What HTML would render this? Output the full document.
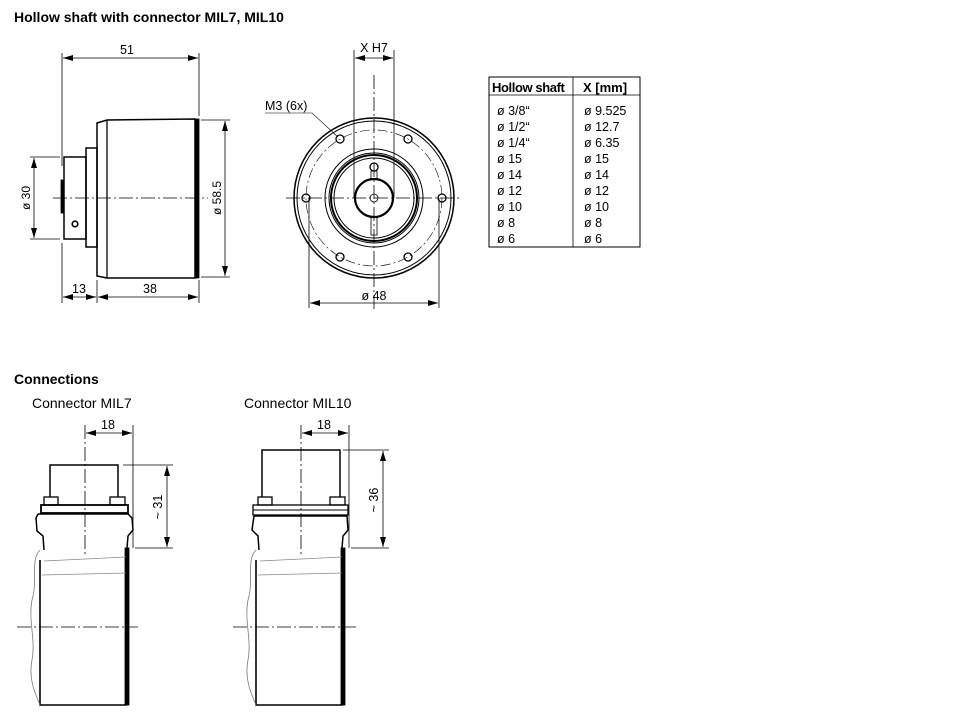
<!DOCTYPE html>
<html><head><meta charset="utf-8"><style>
html,body{margin:0;padding:0;background:#fff}
svg{display:block}
text{font-family:"Liberation Sans",Arial,sans-serif;fill:#000}
</style></head><body>
<svg width="978" height="718" viewBox="0 0 978 718" xmlns="http://www.w3.org/2000/svg">
<defs>
<marker id="a" viewBox="0 0 10 6" refX="10" refY="3" markerWidth="10" markerHeight="6" orient="auto-start-reverse" markerUnits="userSpaceOnUse"><path d="M0,0 L10,3 L0,6 z" fill="#000"/></marker>
</defs>
<text x="14" y="22" font-size="14" font-weight="bold">Hollow shaft with connector MIL7, MIL10</text>
<text x="14" y="384" font-size="14" font-weight="bold">Connections</text>
<text x="32" y="408" font-size="14">Connector MIL7</text>
<text x="244" y="408" font-size="14">Connector MIL10</text>

<g stroke="#000" fill="none" stroke-width="0.8">
<line x1="62" y1="53" x2="62" y2="166"/>
<line x1="199" y1="53" x2="199" y2="116"/>
<line x1="63" y1="58" x2="198" y2="58" marker-start="url(#a)" marker-end="url(#a)"/>
<path d="M97,123 L107,120 L195,119 L195,278 L107,278 L97,276 Z" stroke-width="1.5"/>
<line x1="107" y1="120" x2="107" y2="278" stroke-width="1.3"/>
<rect x="195" y="119" width="4" height="159" fill="#000"/>
<rect x="86" y="148" width="11" height="99" stroke-width="1.5"/>
<rect x="64" y="157" width="22" height="82" stroke-width="1.5"/>
<rect x="61" y="180" width="3" height="33" fill="#000"/>
<circle cx="75" cy="224" r="2.8" stroke-width="1.6"/>
<line x1="53" y1="198" x2="208" y2="198" stroke-dasharray="14,3,2,3"/>
<line x1="30" y1="157" x2="60" y2="157"/>
<line x1="30" y1="239" x2="60" y2="239"/>
<line x1="34" y1="158" x2="34" y2="238" marker-start="url(#a)" marker-end="url(#a)"/>
<line x1="201" y1="120" x2="230" y2="120"/>
<line x1="201" y1="277" x2="230" y2="277"/>
<line x1="225" y1="121" x2="225" y2="276" marker-start="url(#a)" marker-end="url(#a)"/>
<line x1="62" y1="243" x2="62" y2="303"/>
<line x1="97" y1="280" x2="97" y2="303"/>
<line x1="199" y1="280" x2="199" y2="303"/>
<line x1="63" y1="297" x2="96" y2="297" marker-start="url(#a)" marker-end="url(#a)"/>
<line x1="98" y1="297" x2="198" y2="297" marker-start="url(#a)" marker-end="url(#a)"/>

<circle cx="374" cy="198" r="80" stroke-width="1.5"/>
<circle cx="374" cy="198" r="77" stroke-width="1"/>
<circle cx="374" cy="198" r="68" stroke-dasharray="10,3,2,3" stroke-width="0.6"/>
<circle cx="374" cy="198" r="49" stroke-width="1"/>
<circle cx="374" cy="198" r="45" stroke-width="1"/>
<circle cx="374" cy="198" r="43" stroke-width="2"/>
<circle cx="374" cy="198" r="40" stroke-width="1"/>
<circle cx="374" cy="198" r="19" stroke-width="2.2"/>
<circle cx="374" cy="198" r="4"/>
<circle cx="374" cy="167" r="4" stroke-width="1.3"/>
<rect x="371" y="171" width="6" height="8"/>
<rect x="371" y="217" width="6" height="18"/>
<g stroke-width="1.3">
<circle cx="306" cy="198" r="4"/><circle cx="442" cy="198" r="4"/>
<circle cx="340" cy="139" r="4"/><circle cx="408" cy="139" r="4"/>
<circle cx="340" cy="257" r="4"/><circle cx="408" cy="257" r="4"/>
</g>
<line x1="286" y1="198" x2="462" y2="198" stroke-dasharray="14,3,2,3"/>
<line x1="374" y1="75" x2="374" y2="310" stroke-dasharray="14,3,2,3"/>
<line x1="354" y1="50" x2="354" y2="198"/>
<line x1="394" y1="50" x2="394" y2="198"/>
<line x1="355" y1="58" x2="393" y2="58" marker-start="url(#a)" marker-end="url(#a)"/>
<line x1="309" y1="198" x2="309" y2="308"/>
<line x1="439" y1="198" x2="439" y2="308"/>
<line x1="310" y1="303" x2="438" y2="303" marker-start="url(#a)" marker-end="url(#a)"/>
<polyline points="265,113 312,113 338,137" stroke-width="0.6"/>

<rect x="489" y="77" width="151" height="170" stroke-width="1"/>
<line x1="489" y1="95" x2="640" y2="95"/>
<line x1="573" y1="77" x2="573" y2="247"/>

<line x1="85" y1="425" x2="85" y2="555" stroke-dasharray="14,3,2,3"/>
<line x1="133" y1="425" x2="133" y2="548"/>
<line x1="86" y1="433" x2="132" y2="433" marker-start="url(#a)" marker-end="url(#a)"/>
<polyline points="50,497 50,465 118,465 118,497" stroke-width="1.5"/>
<rect x="44" y="497" width="14" height="8" stroke-width="1.3"/>
<rect x="110" y="497" width="15" height="8" stroke-width="1.3"/>
<rect x="41" y="505" width="87" height="8" stroke-width="1.8"/>
<path d="M38,514 L128,514 L132,518 L133,530 L128,536 L127,548 M38,514 L36,518 L37,531 L43,536 L44,550" stroke-width="1.5"/>
<path d="M40,560 L40,705 L126,705 L126,548" stroke-width="1.6"/>
<rect x="125" y="548" width="4" height="157" fill="#000"/>
<path d="M42,575 L126,573 M44,561 L126,557" stroke="#888"/>
<path d="M40,550 C30,560 38,580 32,600 C28,620 36,640 32,660 C28,680 36,695 40,705" stroke="#777"/>
<line x1="17" y1="627" x2="138" y2="627" stroke-dasharray="14,3,2,3"/>
<line x1="123" y1="465" x2="173" y2="465"/>
<line x1="135" y1="548" x2="173" y2="548"/>
<line x1="167" y1="466" x2="167" y2="547" marker-start="url(#a)" marker-end="url(#a)"/>

<line x1="301" y1="425" x2="301" y2="555" stroke-dasharray="14,3,2,3"/>
<line x1="349" y1="425" x2="349" y2="548"/>
<line x1="302" y1="433" x2="348" y2="433" marker-start="url(#a)" marker-end="url(#a)"/>
<polyline points="262,497 262,450 340,450 340,497" stroke-width="1.5"/>
<rect x="258" y="497" width="14" height="8" stroke-width="1.3"/>
<rect x="330" y="497" width="15" height="8" stroke-width="1.3"/>
<rect x="253" y="505" width="95" height="10" stroke-width="1.3"/>
<line x1="253" y1="510" x2="348" y2="510" stroke-width="1"/>
<path d="M254,516 L347,516 L348,530 L343,536 L342,548 M254,516 L252,530 L258,536 L259,550" stroke-width="1.5"/>
<path d="M256,560 L256,705 L342,705 L342,548" stroke-width="1.6"/>
<rect x="341" y="548" width="4" height="157" fill="#000"/>
<path d="M258,575 L342,573 M260,561 L342,557" stroke="#888"/>
<path d="M256,550 C246,560 254,580 248,600 C244,620 252,640 248,660 C244,680 252,695 256,705" stroke="#777"/>
<line x1="233" y1="627" x2="356" y2="627" stroke-dasharray="14,3,2,3"/>
<line x1="343" y1="450" x2="389" y2="450"/>
<line x1="351" y1="548" x2="389" y2="548"/>
<line x1="383" y1="451" x2="383" y2="547" marker-start="url(#a)" marker-end="url(#a)"/>
</g>

<g font-size="12.5">
<text x="127" y="54" text-anchor="middle">51</text>
<text x="79" y="293" text-anchor="middle">13</text>
<text x="150" y="293" text-anchor="middle">38</text>
<text transform="translate(30,198) rotate(-90)" text-anchor="middle" font-size="12">ø 30</text>
<text transform="translate(221,198) rotate(-90)" text-anchor="middle" font-size="12">ø 58.5</text>
<text x="374" y="52" text-anchor="middle">X H7</text>
<text x="374" y="300" text-anchor="middle">ø 48</text>
<text x="265" y="110">M3 (6x)</text>
<text x="108" y="429" text-anchor="middle">18</text>
<text x="324" y="429" text-anchor="middle">18</text>
<text transform="translate(162,507) rotate(-90)" text-anchor="middle">~ 31</text>
<text transform="translate(378,500) rotate(-90)" text-anchor="middle">~ 36</text>
</g>
<g font-size="12.5">
<text x="492" y="92" font-weight="bold" font-size="13" letter-spacing="-0.4">Hollow shaft</text>
<text x="583" y="92" font-weight="bold" font-size="13">X [mm]</text>
<text x="497" y="115">ø 3/8“</text><text x="584" y="115">ø 9.525</text>
<text x="497" y="131">ø 1/2“</text><text x="584" y="131">ø 12.7</text>
<text x="497" y="147">ø 1/4“</text><text x="584" y="147">ø 6.35</text>
<text x="497" y="163">ø 15</text><text x="584" y="163">ø 15</text>
<text x="497" y="179">ø 14</text><text x="584" y="179">ø 14</text>
<text x="497" y="195">ø 12</text><text x="584" y="195">ø 12</text>
<text x="497" y="211">ø 10</text><text x="584" y="211">ø 10</text>
<text x="497" y="227">ø 8</text><text x="584" y="227">ø 8</text>
<text x="497" y="243">ø 6</text><text x="584" y="243">ø 6</text>
</g>
</svg>
</body></html>
